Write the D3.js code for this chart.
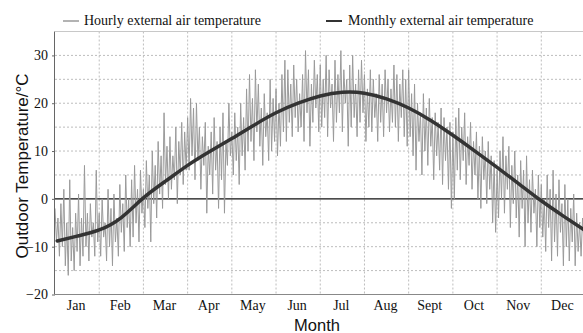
<!DOCTYPE html>
<html>
<head>
<meta charset="utf-8">
<script src="https://cdn.jsdelivr.net/npm/d3@7/dist/d3.min.js"></script>
<style>
  html, body { margin: 0; padding: 0; background: #fff; }
  svg { display: block; }
</style>
</head>
<body>
<svg id="chart" width="583" height="333"></svg>
<script>
// ---------- data ----------
const months = ["Jan","Feb","Mar","Apr","May","Jun","Jul","Aug","Sept","Oct","Nov","Dec"];
const yTicks = [-20, -10, 0, 10, 20, 30];
const yGrid = [-15, -10, -5, 5, 10, 15, 20, 25, 30];

// hourly external air temperature (~30 samples per month)
const hourlyJan = [-2,-9,-4,-12,-1,-10,2,-14,-5,-16,4,-13,-6,-15,-3,-11,1,-14,-4,-12,7,-10,-3,-13,-1,-8,-5,-12,6,-9];
const hourlyFeb = [-3,-12,0,-8,-5,-13,2,-10,-2,-14,1,-9,-4,-12,3,-7,-1,-11,5,-6,0,-10,4,-8,7,-5,2,-9,6,-3];
const hourlyMar = [2,-6,8,-2,5,-9,10,-1,7,-4,12,1,9,-2,18,3,11,0,13,2,9,4,15,-1,12,5,16,3,14,6];
const hourlyApr = [17,6,21,9,19,4,20,8,15,2,13,7,16,-3,11,5,14,1,17,6,12,-2,15,4,18,-3,12,7,20,9];
const hourlyMay = [14,5,18,8,15,3,20,9,17,6,23,10,26,12,21,8,27,14,24,11,19,7,22,13,18,8,25,10,21,12];
const hourlyJun = [23,9,20,11,26,14,29,12,27,16,24,13,28,17,25,14,22,15,26,12,31,18,27,11,24,16,29,19,26,14];
const hourlyJul = [28,15,25,17,30,13,27,19,24,12,29,16,26,18,31,14,27,20,25,11,28,15,30,17,24,13,27,16,29,18];
const hourlyAug = [26,12,23,15,27,14,25,17,22,12,26,16,24,13,27,18,25,14,23,16,28,15,26,12,24,17,27,13,25,11];
const hourlySep = [27,13,22,9,24,6,20,12,18,5,22,10,19,7,21,11,17,4,18,9,16,6,19,3,17,8,15,2,16,-2];
const hourlyOct = [14,0,17,6,19,4,15,8,18,3,13,7,16,2,12,5,14,0,11,-2,13,4,10,-1,12,2,9,-5,8,-7];
const hourlyNov = [6,-4,10,0,13,-3,9,2,11,-6,7,-1,10,-4,5,-8,8,-2,6,-10,9,-5,4,-7,6,-3,2,-10,5,-6];
const hourlyDec = [3,-8,0,-11,5,-6,2,-13,6,-9,1,-12,4,-7,-1,-14,3,-10,0,-13,-2,-9,1,-14,-3,-11,-5,-12,-4,-9];
const hourlyByMonth = [hourlyJan,hourlyFeb,hourlyMar,hourlyApr,hourlyMay,hourlyJun,hourlyJul,hourlyAug,hourlySep,hourlyOct,hourlyNov,hourlyDec];

// monthly external air temperature curve (position in months, value)
const monthlyPos = [0.05,0.5,1,1.5,2,2.5,3,3.5,4,4.5,5,5.5,6,6.5,7,7.5,8,8.5,9,9.5,10,10.5,11,11.5,12];
const monthlyVal = [-8.8,-7.8,-6.5,-3.9,0.2,3.7,7.0,9.9,12.6,15.4,18.0,20.0,21.5,22.3,22.1,20.9,19.0,16.4,13.3,10.0,6.6,3.1,-0.4,-3.6,-6.7];

// ---------- layout ----------
const W = 583, H = 333;
const pLeft = 55, pRight = 585.5, pTop = 31.5, pBottom = 294.5;
const svg = d3.select("#chart");

const x = d3.scaleLinear().domain([0, 12]).range([pLeft, pRight]);
const y = d3.scaleLinear().domain([-20, 35]).range([pBottom, pTop]);

svg.append("defs").append("clipPath").attr("id", "plotclip")
  .append("rect").attr("x", pLeft).attr("y", pTop).attr("width", pRight - pLeft).attr("height", pBottom - pTop);

// grid
const grid = svg.append("g");
grid.selectAll("line.h").data(yGrid).enter().append("line")
  .attr("x1", pLeft).attr("x2", W).attr("y1", d => y(d)).attr("y2", d => y(d))
  .attr("stroke", "#bdbdbd").attr("stroke-width", 1).attr("stroke-dasharray", "2,2");
grid.selectAll("line.v").data(d3.range(1, 12)).enter().append("line")
  .attr("x1", d => x(d)).attr("x2", d => x(d)).attr("y1", pTop).attr("y2", pBottom)
  .attr("stroke", "#bdbdbd").attr("stroke-width", 1).attr("stroke-dasharray", "2,2");

// top border
svg.append("line").attr("x1", pLeft).attr("x2", W).attr("y1", pTop).attr("y2", pTop)
  .attr("stroke", "#c8c8c8").attr("stroke-width", 1);

// zero line
svg.append("line").attr("x1", pLeft).attr("x2", W).attr("y1", y(0)).attr("y2", y(0))
  .attr("stroke", "#111").attr("stroke-width", 1.2);

// hourly series
const hourlyPts = [];
hourlyByMonth.forEach((arr, m) => {
  arr.forEach((v, j) => hourlyPts.push([m + j / arr.length, v]));
});
const plot = svg.append("g").attr("clip-path", "url(#plotclip)");
plot.append("path").datum(hourlyPts)
  .attr("fill", "none").attr("stroke", "#9a9a9a").attr("stroke-width", 1)
  .attr("d", d3.line().x(d => x(d[0])).y(d => y(d[1])));

// monthly curve
const monthlyPts = monthlyPos.map((p, i) => [p, monthlyVal[i]]);
plot.append("path").datum(monthlyPts)
  .attr("fill", "none").attr("stroke", "#333").attr("stroke-width", 3.5)
  .attr("stroke-linecap", "round")
  .attr("d", d3.line().curve(d3.curveNatural).x(d => x(d[0])).y(d => y(d[1])));

// y axis
const yAxis = svg.append("g").attr("transform", `translate(${pLeft},0)`)
  .call(d3.axisLeft(y).tickValues(yTicks).tickSize(3).tickPadding(4).tickFormat(d3.format("d")));
yAxis.select(".domain").attr("stroke", "#666").attr("d", `M-0.5,${pTop}V${pBottom}`);
yAxis.selectAll(".tick line").attr("stroke", "#666");
yAxis.selectAll("text").attr("font-family", "'Liberation Serif', 'Times New Roman', serif")
  .attr("font-size", 14).attr("fill", "#111");

// x axis
svg.append("line").attr("x1", pLeft).attr("x2", W).attr("y1", pBottom).attr("y2", pBottom)
  .attr("stroke", "#888").attr("stroke-width", 1);
svg.append("g").selectAll("text").data(months).enter().append("text")
  .attr("x", (d, i) => x(i + 0.5) - 1).attr("y", 310)
  .attr("text-anchor", "middle")
  .attr("font-family", "'Liberation Serif', 'Times New Roman', serif")
  .attr("font-size", 14).attr("fill", "#111")
  .text(d => d);

// axis titles
svg.append("text").attr("x", 317).attr("y", 331).attr("text-anchor", "middle")
  .attr("font-family", "'Liberation Sans', Arial, sans-serif").attr("font-size", 16.5).attr("fill", "#111")
  .text("Month");
svg.append("text").attr("transform", "translate(28,166) rotate(-90)").attr("text-anchor", "middle")
  .attr("font-family", "'Liberation Sans', Arial, sans-serif").attr("font-size", 17).attr("fill", "#111")
  .text("Outdoor Temperature/°C");

// legend
const legend = svg.append("g");
legend.append("line").attr("x1", 63).attr("x2", 79).attr("y1", 21).attr("y2", 21)
  .attr("stroke", "#9a9a9a").attr("stroke-width", 1.5);
legend.append("text").attr("x", 84).attr("y", 25)
  .attr("font-family", "'Liberation Serif', 'Times New Roman', serif").attr("font-size", 14).attr("fill", "#111")
  .text("Hourly external air temperature");
legend.append("line").attr("x1", 326).attr("x2", 342).attr("y1", 21).attr("y2", 21)
  .attr("stroke", "#333").attr("stroke-width", 2);
legend.append("text").attr("x", 348).attr("y", 25)
  .attr("font-family", "'Liberation Serif', 'Times New Roman', serif").attr("font-size", 14).attr("fill", "#111")
  .text("Monthly external air temperature");
</script>
</body>
</html>
